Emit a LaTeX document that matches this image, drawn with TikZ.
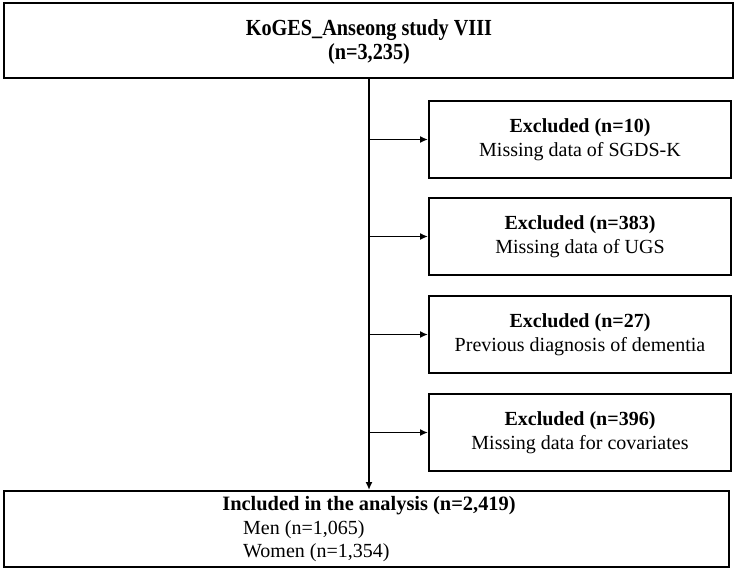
\documentclass[tikz,border=0pt]{standalone}
\usepackage{fontspec}
\setmainfont{Liberation Serif}
\newfontfamily\condbold[FakeStretch=0.88]{Liberation Serif Bold}
\usetikzlibrary{arrows.meta}
\tikzset{
  box/.style={draw=black, line width=2pt, rectangle, inner sep=0pt, fill=white},
  exbox/.style={box, minimum width=302pt, minimum height=77pt, align=center, font=\fontsize{20}{23.5}\selectfont},
  conn/.style={line width=1.8pt, -{Latex[length=8pt,width=7pt]}},
  txt/.style={inner sep=0pt, font=\fontsize{20}{24}\selectfont},
}
\begin{document}
\begin{tikzpicture}[x=1pt,y=-1pt]
\useasboundingbox[fill=white] (0,0) rectangle (736,574);
% top box
\node[box, minimum width=729pt, minimum height=75pt] (top) at (368.5,40.5) {};
\node[txt, font=\fontsize{23}{27}\condbold] (topA) at (369,30.5) {KoGES\_Anseong study VIII};
\node[txt, font=\fontsize{23}{27}\condbold] (topB) at (369,53.5) {(n=3,235)};
% excluded boxes
\node[exbox] (e1) at (580,139.5) {\textbf{Excluded (n=10)}\\Missing data of SGDS-K};
\node[exbox] (e2) at (580,236.5) {\textbf{Excluded (n=383)}\\Missing data of UGS};
\node[exbox] (e3) at (580,334.5) {\textbf{Excluded (n=27)}\\Previous diagnosis of dementia};
\node[exbox] (e4) at (580,432.5) {\textbf{Excluded (n=396)}\\Missing data for covariates};
% bottom box
\node[box, minimum width=725pt, minimum height=76pt] (inc) at (366.5,529) {};
\node[txt, font=\fontsize{20.4}{24}\bfseries] (incA) at (369,506) {Included in the analysis (n=2,419)};
\node[txt, anchor=west] (men) at (243,529.5) {Men (n=1,065)};
\node[txt, anchor=west] (women) at (243,553) {Women (n=1,354)};
% connectors
\coordinate (s) at (369,78);
\draw[conn] (s) -- (inc.north -| s);
\foreach \b in {e1,e2,e3,e4}{
  \draw[conn] (s |- \b.west) -- (\b.west);
}
\end{tikzpicture}
\end{document}
